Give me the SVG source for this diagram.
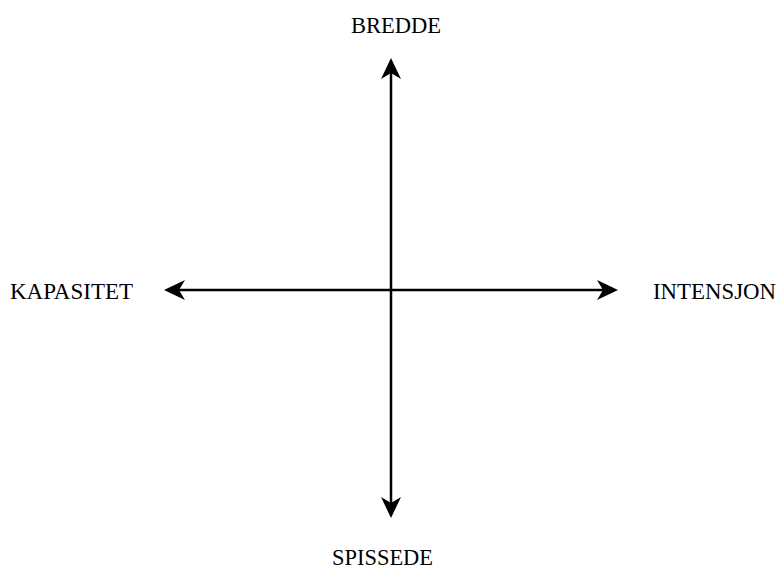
<svg xmlns="http://www.w3.org/2000/svg" width="779" height="571" viewBox="0 0 779 571">
<style>
.lbl{font-family:"Liberation Serif","DejaVu Serif",serif;font-size:23px;fill:#000}
.ax{stroke:#000;stroke-width:2.5;fill:none}
.hd{fill:#000}
</style>
<rect width="779" height="571" fill="#fff"/>
<g id="connectors">
<line class="ax" x1="391" y1="66" x2="391" y2="510"/>
<line class="ax" x1="172" y1="290" x2="610" y2="290"/>
<path class="hd" d="M391,58 L401,79 L391,73 L381,79 Z"/>
<path class="hd" d="M391,518 L401,497 L391,503 L381,497 Z"/>
<path class="hd" d="M164,290 L185,280 L179,290 L185,300 Z"/>
<path class="hd" d="M618,290 L597,280 L603,290 L597,300 Z"/>
</g>
<g id="bredde"><text class="lbl" x="396" y="33" text-anchor="middle" textLength="90" lengthAdjust="spacingAndGlyphs">BREDDE</text></g>
<g id="kapasitet"><text class="lbl" x="10" y="299" textLength="123" lengthAdjust="spacingAndGlyphs">KAPASITET</text></g>
<g id="intensjon"><text class="lbl" x="653" y="299" textLength="123" lengthAdjust="spacingAndGlyphs">INTENSJON</text></g>
<g id="spissede"><text class="lbl" x="332" y="565" textLength="101" lengthAdjust="spacingAndGlyphs">SPISSEDE</text></g>
</svg>
